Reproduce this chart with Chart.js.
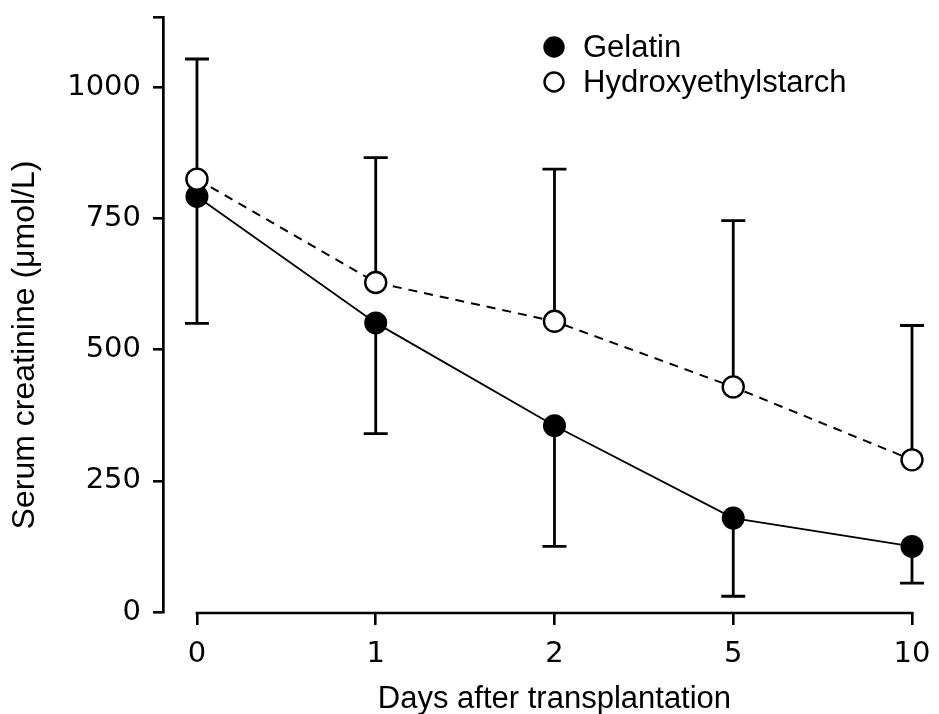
<!DOCTYPE html>
<html>
<head>
<meta charset="utf-8">
<script src="https://cdn.jsdelivr.net/npm/chart.js@4"></script>
<style>
	html, body { margin: 0; padding: 0; background: #fff; }
</style>
</head>
<body>
<canvas id="myChart" width="939" height="714"></canvas>
<script>
// data
const days = ['0', '1', '2', '5', '10']
const gelatin = [792, 551, 355, 179, 125]
const gelatinLow = [550, 340, 125, 30, 55]
const hes = [825, 628, 554, 429, 290]
const hesHigh = [1054, 866, 844, 746, 546]
const yTicks = [0, 250, 500, 750, 1000]
const yMax = 1134
const seriesNames = ['Gelatin', 'Hydroxyethylstarch']
const xTitle = 'Days after transplantation'
const yTitle = 'Serum creatinine (μmol/L)'

const tickFont = { family: 'DejaVu Sans', size: 29 }
const textFont = '31px "Liberation Sans"'

// error bars, x axis line, titles and legend
const extras = {
	id: 'extras',
	beforeDatasetsDraw(chart) {
		const ctx = chart.ctx
		const x = chart.scales.x
		const y = chart.scales.y
		ctx.save()
		ctx.strokeStyle = '#000'
		ctx.lineWidth = 2.8
		const bar = (i, from, to) => {
			const px = x.getPixelForValue(i)
			const py = y.getPixelForValue(to)
			ctx.beginPath()
			ctx.moveTo(px, y.getPixelForValue(from))
			ctx.lineTo(px, py)
			ctx.moveTo(px - 12, py)
			ctx.lineTo(px + 12, py)
			ctx.stroke()
		}
		days.forEach((d, i) => {
			bar(i, hes[i], hesHigh[i])
			bar(i, gelatin[i], gelatinLow[i])
		})
		ctx.restore()
	},
	afterDraw(chart) {
		const ctx = chart.ctx
		const x = chart.scales.x
		const area = chart.chartArea
		const x0 = x.getPixelForValue(0)
		const x1 = x.getPixelForValue(days.length - 1)
		ctx.save()
		// detached x axis line
		ctx.strokeStyle = '#000'
		ctx.lineWidth = 2.6
		ctx.beginPath()
		ctx.moveTo(x0 - 1.3, area.bottom + 1)
		ctx.lineTo(x1 + 1.3, area.bottom + 1)
		ctx.stroke()

		ctx.fillStyle = '#000'
		ctx.font = textFont
		ctx.textAlign = 'center'
		ctx.textBaseline = 'alphabetic'
		ctx.fillText(xTitle, (x0 + x1) / 2, 708)

		ctx.save()
		ctx.translate(34, 345)
		ctx.rotate(-Math.PI / 2)
		ctx.font = '32px "Liberation Sans"'
		ctx.fillText(yTitle, 0, 0)
		ctx.restore()

		// legend
		ctx.textAlign = 'left'
		const rows = [57, 92]
		chart.data.datasets.forEach((ds, i) => {
			ctx.beginPath()
			ctx.arc(554, rows[i] - 10, 9.5, 0, Math.PI * 2)
			ctx.fillStyle = ds.pointBackgroundColor
			ctx.fill()
			ctx.lineWidth = 2.4
			ctx.strokeStyle = '#000'
			ctx.stroke()
			ctx.fillStyle = '#000'
			ctx.fillText(ds.label, 583, rows[i])
		})
		ctx.restore()
	}
}

const noPad = scale => {
	scale.paddingTop = 0
	scale.paddingBottom = 0
	scale.paddingLeft = 0
	scale.paddingRight = 0
}

const chart = document.querySelector('#myChart').getContext('2d')

const myChart = new Chart(chart, {
	type: 'line',
	data: {
		datasets: [
			{
				label: seriesNames[0],
				data: gelatin.map((v, i) => ({ x: i, y: v })),
				borderColor: '#000',
				borderWidth: 1.8,
				pointRadius: 10.5,
				pointBorderWidth: 2,
				pointBackgroundColor: '#000',
				pointBorderColor: '#000',
				order: 1,
				clip: false
			},
			{
				label: seriesNames[1],
				data: hes.map((v, i) => ({ x: i, y: v })),
				borderColor: '#000',
				borderWidth: 2,
				borderDash: [9, 7],
				pointRadius: 10.5,
				pointBorderWidth: 2.4,
				pointBackgroundColor: '#fff',
				pointBorderColor: '#000',
				order: 0,
				clip: false
			}
		]
	},
	options: {
		responsive: false,
		animation: false,
		layout: { padding: { top: 17, right: 27, left: 0, bottom: 0 } },
		plugins: {
			legend: { display: false },
			tooltip: { enabled: false }
		},
		scales: {
			x: {
				type: 'linear',
				min: -0.19,
				max: days.length - 1,
				afterBuildTicks: scale => {
					scale.ticks = days.map((d, i) => ({ value: i }))
				},
				afterFit: scale => {
					scale.height = 102
					noPad(scale)
				},
				border: { display: false },
				grid: {
					drawOnChartArea: false,
					drawTicks: true,
					tickLength: 13,
					lineWidth: 2.6,
					color: '#000'
				},
				ticks: {
					color: '#000',
					font: tickFont,
					padding: 12,
					maxRotation: 0,
					callback: value => days[value]
				}
			},
			y: {
				min: 0,
				max: yMax,
				afterBuildTicks: scale => {
					scale.ticks = yTicks.concat([yMax]).map(v => ({ value: v }))
				},
				afterFit: scale => {
					scale.width = 163
					noPad(scale)
				},
				border: { display: true, color: '#000', width: 2.7 },
				grid: {
					drawOnChartArea: false,
					drawTicks: true,
					tickLength: 10,
					lineWidth: 2.6,
					color: '#000'
				},
				ticks: {
					color: '#000',
					font: tickFont,
					padding: 12,
					callback: value => (yTicks.includes(value) ? String(value) : '')
				}
			}
		}
	},
	plugins: [extras]
})
</script>
</body>
</html>
